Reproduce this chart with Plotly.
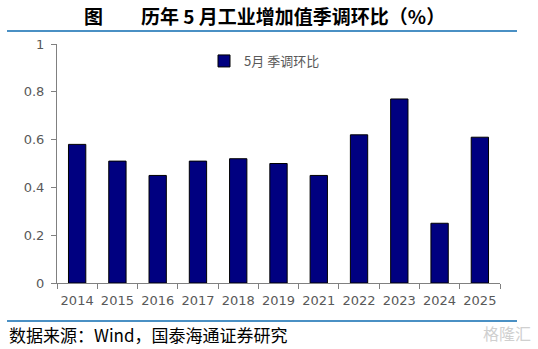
import plotly.graph_objects as go

years = ["2014", "2015", "2016", "2017", "2018", "2019", "2021", "2022", "2023", "2024", "2025"]
mom_sa = [0.58, 0.51, 0.45, 0.51, 0.52, 0.50, 0.45, 0.62, 0.77, 0.25, 0.61]
series_name = "5月 季调环比"

W, H = 538, 349
L, R, T, B = 57, 38, 44, 66
pw, ph = W - L - R, H - T - B


def px_x(x):
    return (x - L) / pw


def px_y(y):
    return (H - B - y) / ph


fig = go.Figure()
fig.add_trace(go.Bar(
    x=years, y=mom_sa, name=series_name,
    marker=dict(color="#000080", line=dict(color="#000000", width=1)),
    width=0.43, showlegend=True,
))

axis_gray = "#808080"
tick_font = dict(family="DejaVu Sans, sans-serif", size=13, color="#595959")
fig.update_layout(
    width=W, height=H,
    margin=dict(l=L, r=R, t=T, b=B),
    paper_bgcolor="white", plot_bgcolor="white",
    font=tick_font,
    xaxis=dict(
        type="category", range=[-0.5, len(years) - 0.5],
        showline=True, linecolor=axis_gray, linewidth=1,
        ticks="outside", tickson="boundaries", ticklen=5, tickcolor=axis_gray,
        showgrid=False, tickfont=tick_font, tickangle=0, ticklabelstandoff=5,
    ),
    yaxis=dict(
        range=[0, 1], dtick=0.2, tickformat="~g",
        showline=True, linecolor=axis_gray, linewidth=1,
        ticks="outside", ticklen=5, tickcolor=axis_gray,
        showgrid=False, zeroline=False, tickfont=tick_font, ticklabelstandoff=4,
    ),
    legend=dict(
        x=px_x(204), y=px_y(61), xanchor="left", yanchor="middle",
        bgcolor="rgba(0,0,0,0)",
        font=dict(family="Noto Sans CJK SC", size=13, color="#595959"),
        itemwidth=30,
    ),
    bargap=0.57,
)

# Rules above the plot and above the source note
rule_color = "#4A90C4"
for yp in (31, 321):
    fig.add_shape(type="line", xref="paper", yref="paper",
                  x0=px_x(7), x1=px_x(517), y0=px_y(yp), y1=px_y(yp),
                  line=dict(color=rule_color, width=2))

fig.add_annotation(
    text="<b>图　　历年 5 月工业增加值季调环比（%）</b>",
    xref="paper", yref="paper", x=px_x(82), y=px_y(16),
    xanchor="left", yanchor="middle", showarrow=False,
    font=dict(family="Noto Sans CJK SC", size=19, color="#000000"),
)
fig.add_annotation(
    text="数据来源：Wind，国泰海通证券研究",
    xref="paper", yref="paper", x=px_x(7), y=px_y(334),
    xanchor="left", yanchor="middle", showarrow=False,
    font=dict(family="Noto Sans CJK SC", size=17, color="#000000"),
)
fig.add_annotation(
    text="格隆汇",
    xref="paper", yref="paper", x=px_x(533), y=px_y(333),
    xanchor="right", yanchor="middle", showarrow=False,
    font=dict(family="Noto Sans CJK SC", size=16, color="#d0d0d0"),
)

fig.write_html("out.html")
